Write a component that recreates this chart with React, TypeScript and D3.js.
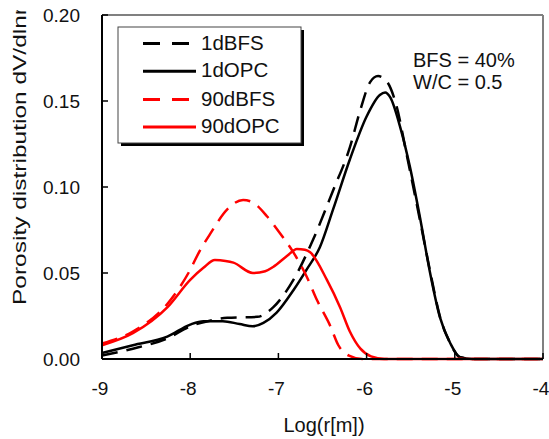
import React from 'react';
import * as d3 from 'd3';

// series: log radius and dV/dlnr
const opc1X = [-9.0, -8.65, -8.26, -8.0, -7.85, -7.63, -7.44, -7.29, -7.17, -7.02, -6.83, -6.68, -6.53, -6.38, -6.19, -6.0, -5.85, -5.79, -5.73, -5.62, -5.51, -5.39, -5.28, -5.17, -5.05, -4.94, -4.8, -4.0];
const opc1Y = [0.0035, 0.008, 0.013, 0.020, 0.022, 0.022, 0.0203, 0.019, 0.021, 0.027, 0.040, 0.052, 0.065, 0.087, 0.116, 0.141, 0.1535, 0.155, 0.152, 0.135, 0.112, 0.081, 0.050, 0.0245, 0.009, 0.001, 0, 0];

const bfs1X = [-9.0, -8.65, -8.26, -8.0, -7.8, -7.58, -7.24, -7.06, -6.83, -6.61, -6.38, -6.19, -6.07, -5.96, -5.87, -5.78, -5.66, -5.55, -5.4, -5.28, -5.17, -5.05, -4.94, -4.8, -4.0];
const bfs1Y = [0.002, 0.006, 0.012, 0.019, 0.022, 0.024, 0.0245, 0.030, 0.046, 0.069, 0.098, 0.123, 0.145, 0.161, 0.1645, 0.162, 0.147, 0.12, 0.082, 0.051, 0.025, 0.009, 0.001, 0, 0];

const opc90X = [-9.0, -8.65, -8.26, -8.0, -7.85, -7.72, -7.6, -7.51, -7.29, -7.15, -7.06, -6.9, -6.79, -6.7, -6.64, -6.45, -6.3, -6.19, -6.07, -5.95, -5.8, -4.0];
const opc90Y = [0.008, 0.015, 0.030, 0.046, 0.053, 0.0575, 0.057, 0.056, 0.050, 0.051, 0.0535, 0.060, 0.064, 0.0635, 0.062, 0.046, 0.030, 0.016, 0.006, 0.0015, 0, 0];

const bfs90X = [-9.0, -8.65, -8.26, -8.02, -7.89, -7.77, -7.58, -7.40, -7.29, -7.13, -6.98, -6.83, -6.68, -6.56, -6.41, -6.32, -6.2, -6.05, -4.0];
const bfs90Y = [0.009, 0.016, 0.032, 0.050, 0.063, 0.073, 0.087, 0.0925, 0.091, 0.083, 0.073, 0.062, 0.048, 0.034, 0.019, 0.008, 0.002, 0, 0];

const seriesNames = ['1dBFS', '1dOPC', '90dBFS', '90dOPC'];
const seriesColors = ['#000000', '#000000', '#ff0000', '#ff0000'];
const seriesDashed = [true, false, true, false];
const seriesX = [bfs1X, opc1X, bfs90X, opc90X];
const seriesY = [bfs1Y, opc1Y, bfs90Y, opc90Y];

const xTicks = [-9, -8, -7, -6, -5, -4];
const yTicks = [0, 0.05, 0.1, 0.15, 0.2];

const notes = ['BFS = 40%', 'W/C = 0.5'];

const font = 'Arial, "Liberation Sans", sans-serif';

export default function App() {
  const left = 102, right = 543, top = 15, bottom = 359;

  const x = d3.scaleLinear().domain([-9, -4]).range([left, right]);
  const y = d3.scaleLinear().domain([0, 0.2]).range([bottom, top]);

  const line = d3.line<[number, number]>()
    .x(d => x(d[0]))
    .y(d => y(d[1]))
    .curve(d3.curveMonotoneX);

  const legendRows = [49.5, 77.3, 105.5, 133];

  return (
    <svg width={549} height={439} style={{ position: 'absolute', left: 0, top: 0, background: '#fff' }}>
      <defs>
        <clipPath id="ylab">
          <rect x={0} y={10} width={60} height={420} />
        </clipPath>
      </defs>

      {/* frame: gray top and right, black axes */}
      <line x1={left} x2={right} y1={top} y2={top} stroke="#808080" strokeWidth={2} />
      <line x1={right} x2={right} y1={top} y2={bottom} stroke="#808080" strokeWidth={2} />

      {/* curves */}
      {seriesX.map((xs, i) => (
        <path
          key={seriesNames[i]}
          d={line(xs.map((v, j) => [v, seriesY[i][j]] as [number, number])) || ''}
          fill="none"
          stroke={seriesColors[i]}
          strokeWidth={2.5}
          strokeDasharray={seriesDashed[i] ? '16 9' : undefined}
        />
      ))}

      <line x1={left} x2={left} y1={top} y2={bottom} stroke="#000" strokeWidth={2} />
      <line x1={left} x2={right} y1={bottom} y2={bottom} stroke="#000" strokeWidth={2} />

      {/* y ticks */}
      {yTicks.map(t => (
        <g key={t}>
          <line x1={left} x2={left + 6} y1={y(t)} y2={y(t)} stroke="#000" strokeWidth={1.5} />
          <text x={80} y={y(t)} dy="0.35em" textAnchor="end" fontFamily={font} fontSize={19} fill="#111">
            {t.toFixed(2)}
          </text>
        </g>
      ))}

      {/* x ticks */}
      {xTicks.map(t => (
        <g key={t}>
          <line x1={x(t)} x2={x(t)} y1={bottom} y2={bottom - 6} stroke="#000" strokeWidth={1.5} />
          <text x={x(t) - 2} y={395} textAnchor="middle" fontFamily={font} fontSize={19} fill="#111">
            {t}
          </text>
        </g>
      ))}

      <text x={324} y={432} textAnchor="middle" fontFamily={font} fontSize={20} fill="#111">Log(r[m])</text>

      <g clipPath="url(#ylab)">
        <text
          transform="translate(26,305) rotate(-90)"
          fontFamily={font}
          fontSize={18}
          fill="#111"
          textLength={298}
          lengthAdjust="spacingAndGlyphs"
        >
          Porosity distribution dV/dlnr
        </text>
      </g>

      {/* legend */}
      <rect x={121} y={30} width={183} height={116} fill="#000" />
      <rect x={118} y={27} width={183} height={116} fill="#fff" stroke="#444" strokeWidth={1} />
      {seriesNames.map((name, i) => (
        <g key={name}>
          <line
            x1={143}
            x2={seriesDashed[i] ? 190 : 196}
            y1={legendRows[i] - 6}
            y2={legendRows[i] - 6}
            stroke={seriesColors[i]}
            strokeWidth={3}
            strokeDasharray={seriesDashed[i] ? '17 12' : undefined}
          />
          <text x={201} y={legendRows[i]} fontFamily={font} fontSize={20.5} fill="#111">{name}</text>
        </g>
      ))}

      {notes.map((n, i) => (
        <text key={n} x={413} y={67 + i * 21.5} fontFamily={font} fontSize={20} fill="#111">{n}</text>
      ))}
    </svg>
  );
}
